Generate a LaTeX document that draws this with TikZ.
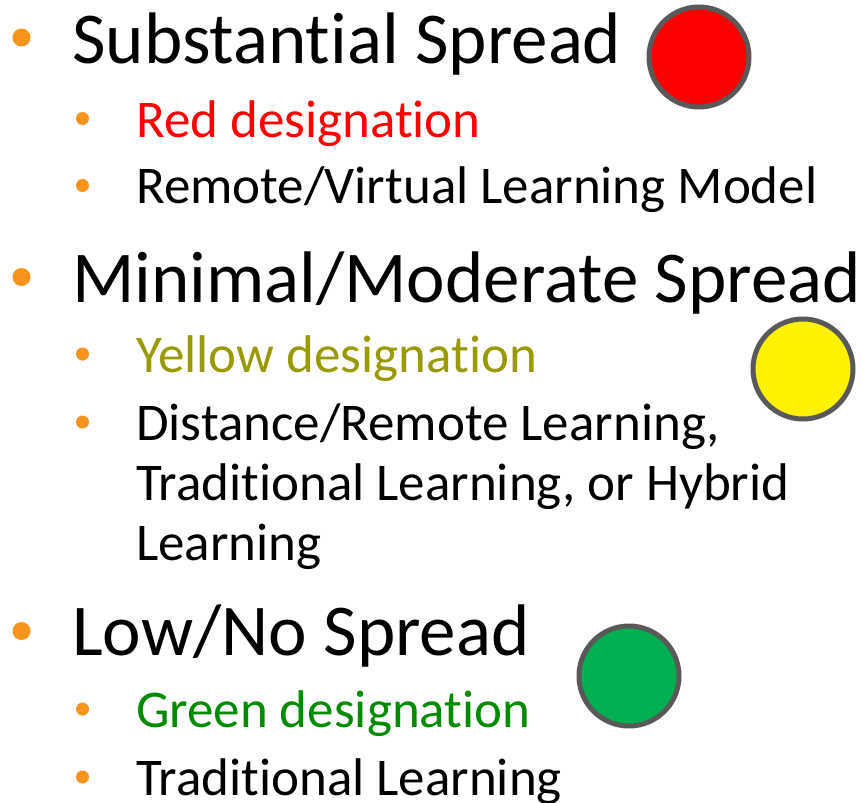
\documentclass[tikz,border=0pt]{standalone}
\usepackage{fontspec}
\setmainfont{Carlito}[Ligatures=NoCommon]
\definecolor{bul}{HTML}{F7941E}
\definecolor{ring}{HTML}{595959}
\definecolor{ytext}{HTML}{999900}
\definecolor{gtext}{HTML}{008A00}
\definecolor{gfill}{HTML}{00B050}
\begin{document}
\begin{tikzpicture}[x=1pt,y=1pt,
  main/.style={anchor=base west,inner sep=0pt,font=\fontsize{73}{84}\selectfont},
  sub/.style={anchor=base west,inner sep=0pt,font=\fontsize{53}{60}\selectfont},
  bigdot/.style={circle,fill=bul,minimum size=18pt,inner sep=0pt},
  smalldot/.style={circle,fill=bul,minimum size=13pt,inner sep=0pt},
  lamp/.style={circle,draw=ring,line width=5pt,minimum size=100pt,inner sep=0pt}]
\useasboundingbox (0,0) rectangle (863,-803);
% section 1
\node[bigdot] (b1) at (21.5,-37.5) {};
\node[main] (t1) at (72,-63) {Substantial Spread};
\node[smalldot] (b1a) at (82.5,-118.5) {};
\node[sub,text=red] (t1a) at (136,-137) {Red designation};
\node[smalldot] (b1b) at (82.5,-185.5) {};
\node[sub] (t1b) at (136,-203) {Remote/Virtual Learning Model};
\node[lamp,fill=red] (c1) at (699,-57) {};
% section 2
\node[bigdot] (b2) at (21.5,-277) {};
\node[main] (t2) at (72,-302) {Minimal/Moderate Spread};
\node[smalldot] (b2a) at (82.5,-354) {};
\node[sub,text=ytext] (t2a) at (136,-372) {Yellow designation};
\node[smalldot] (b2b) at (82.5,-422) {};
\node[sub] (t2b) at (136,-440) {Distance/Remote Learning,};
\node[sub] (t2c) at (136,-500) {Traditional Learning, or Hybrid};
\node[sub] (t2d) at (136,-560) {Learning};
\node[lamp,fill=yellow] (c2) at (803,-369) {};
% section 3
\node[bigdot] (b3) at (21.5,-631) {};
\node[main] (t3) at (72,-655) {Low/No Spread};
\node[smalldot] (b3a) at (82.5,-709) {};
\node[sub,text=gtext] (t3a) at (136,-727) {Green designation};
\node[smalldot] (b3b) at (82.5,-777) {};
\node[sub] (t3b) at (136,-795) {Traditional Learning};
\node[lamp,fill=gfill] (c3) at (629,-676) {};
\end{tikzpicture}
\end{document}
